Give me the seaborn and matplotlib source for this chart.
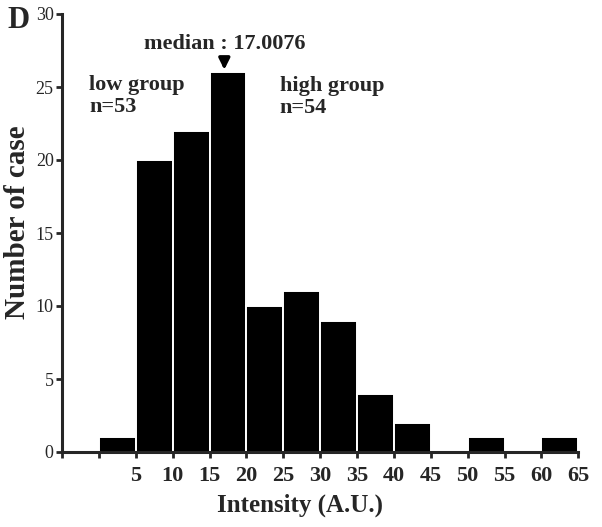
import numpy as np
import pandas as pd
import matplotlib
matplotlib.use("Agg")
import matplotlib.pyplot as plt
import seaborn as sns

# histogram bins (A.U.) and counts per bin
bin_edges = [0, 5, 10, 15, 20, 25, 30, 35, 40, 45, 50, 55, 60, 65]
counts = [1, 20, 22, 26, 10, 11, 9, 4, 2, 0, 1, 0, 1]
tick_pos = [-5, 0, 5, 10, 15, 20, 25, 30, 35, 40, 45, 50, 55, 60, 65]
tick_labels = ["", "", "5", "10", "15", "20", "25", "30", "35", "40", "45", "50", "55", "60", "65"]
median_val = 17.0076
median_count = 26

df = pd.DataFrame({"intensity": np.array(bin_edges[:-1]) + 2.5, "n": counts})

sns.set_style("ticks")
plt.rcParams["font.family"] = ["Liberation Serif", "DejaVu Serif"]

fig = plt.figure(figsize=(6.02, 5.27), dpi=100)
ax = fig.add_axes([62 / 602, 1 - 452 / 527, 520 / 602, 438 / 527])

sns.histplot(data=df, x="intensity", weights="n", bins=bin_edges, ax=ax,
             color="black", edgecolor="white", linewidth=1.4, alpha=1)

ax.set_xlim(-5, 65.5)
ax.set_ylim(0, 30)
ax.set_xticks(tick_pos)
ax.set_xticklabels(tick_labels, fontsize=16, fontweight="bold")
ax.set_yticks([0, 5, 10, 15, 20, 25, 30])
ax.set_yticklabels(["0", "5", "10", "15", "20", "25", "30"], fontsize=13)
ax.tick_params(axis="x", length=4, width=2, pad=6)
ax.tick_params(axis="y", length=4, width=2, pad=2)
for s in ["top", "right"]:
    ax.spines[s].set_visible(False)
for s in ["left", "bottom"]:
    ax.spines[s].set_linewidth(2.2)
ax.spines["bottom"].set_bounds(-5, 65)

ax.set_xlabel("Intensity (A.U.)", fontsize=18, fontweight="bold", va="center")
ax.xaxis.set_label_coords(0.458, -0.121)
ax.set_ylabel("Number of case", fontsize=21, fontweight="bold", va="center")
ax.yaxis.set_label_coords(-0.085, 0.525)

ax.annotate("", xy=(median_val, median_count), xytext=(median_val, median_count + 0.9),
            arrowprops=dict(arrowstyle="-|>", color="black", lw=2.5, mutation_scale=16))
ax.text(median_val, 27.95, "median : %.4f" % median_val, ha="center", va="center",
        fontsize=16, fontweight="bold")
ax.text(-1.3, 24.4, "low group\nn=53", ha="left", va="center", fontsize=16,
        fontweight="bold", linespacing=1.15)
ax.text(24.5, 24.3, "high group\nn=54", ha="left", va="center", fontsize=16,
        fontweight="bold", linespacing=1.15)
fig.text(7 / 602, 1 - 21 / 527, "D", ha="left", va="center", fontsize=22, fontweight="bold")

fig.savefig("out.png", dpi=100)
